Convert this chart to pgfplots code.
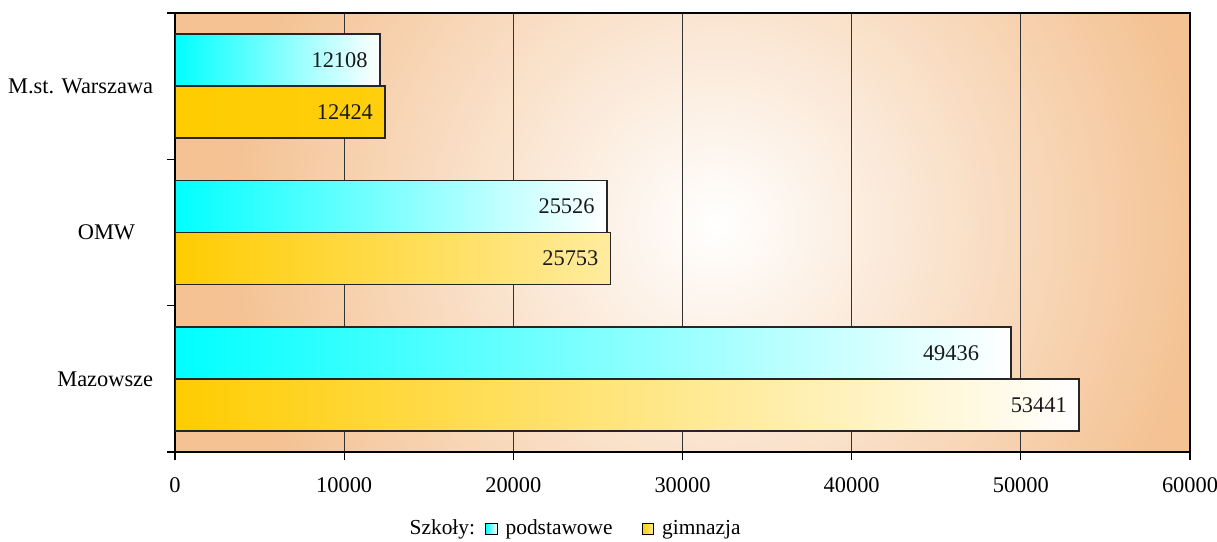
\documentclass[border=0pt]{standalone}
\usepackage{fontspec}
\setmainfont{Liberation Serif}
\usepackage{pgfplots}
\pgfplotsset{compat=1.18}
\usetikzlibrary{calc}

\definecolor{bgtan}{RGB}{244,194,147}
\definecolor{gold}{RGB}{255,204,0}
\definecolor{aqua}{RGB}{0,255,255}

\pgfplotsset{
  sq legend/.style={legend image code/.code={
    \draw[##1,draw=black,line width=0.5bp] (0bp,-2.9bp) rectangle (5.8bp,2.9bp);}},
  barpod/.style={/pgf/bar shift=13bp, draw=black!85, line width=0.8bp, left color=aqua},
  bargim/.style={/pgf/bar shift=-13bp, draw=black!85, line width=0.8bp, left color=gold},
}

\begin{document}
\fontsize{11.2bp}{13.4bp}\selectfont
\begin{tikzpicture}
\begin{axis}[
  set layers,
  scale only axis,
  width=507.5bp, height=219.5bp,
  xbar, bar width=26bp,
  xmin=0, xmax=60000, ymin=-0.5, ymax=2.5,
  xtick={0,10000,20000,30000,40000,50000,60000},
  scaled x ticks=false,
  /pgf/number format/1000 sep={},
  /pgf/number format/assume math mode=true,
  ytick={-0.5,0.5,1.5,2.5},
  yticklabels={,,,},
  extra y ticks={0,1,2},
  extra y tick labels={Mazowsze,OMW\hspace{9bp}\null,M.st. Warszawa},
  extra y tick style={major tick length=0pt},
  tick align=outside, tick pos=left,
  major tick length=4bp,
  xmajorgrids,
  grid style={black!80, line width=0.6bp},
  axis line style={black, line width=0.6bp},
  tick style={black, line width=0.6bp},
  xticklabel style={yshift=-5bp},
  yticklabel style={xshift=-7bp},
  nodes near coords,
  every node near coord/.append style={anchor=east, xshift=-2bp, text=black!90},
  legend style={draw=none, fill=none, at={(0.221,-0.175)}, anchor=west,
    font=\fontsize{10.7bp}{12.8bp}\selectfont,
    legend columns=-1,
    /tikz/every even column/.append style={column sep=3bp}},
]
\begin{pgfonlayer}{axis background}
  \fill[bgtan] (rel axis cs:0,0) rectangle (rel axis cs:1,1);
  \begin{scope}
    \clip (rel axis cs:0,0) rectangle (rel axis cs:1,1);
    \shade[inner color=white, outer color=bgtan] (axis cs:32000,1.05) circle[radius=245bp];
  \end{scope}
\end{pgfonlayer}
\coordinate (sw) at (rel axis cs:0,0);
\coordinate (ne) at (rel axis cs:1,1);

\addlegendimage{empty legend}
\addlegendentry{Szkoły:}

% podstawowe
\addplot[barpod, right color=white, sq legend] coordinates {(12108,2)};
\addlegendentry{\hspace*{2bp}podstawowe\hspace{9.5bp}\null}
\addplot[barpod, right color=white, forget plot] coordinates {(25526,1)};
\addplot[barpod, right color=white, forget plot,
  every node near coord/.append style={xshift=-10bp}] coordinates {(49436,0)};

% gimnazja
\addplot[bargim, right color=gold!95!white, forget plot] coordinates {(12424,2)};
\addplot[bargim, right color=gold!38!white, sq legend] coordinates {(25753,1)};
\addlegendentry{\hspace*{2bp}gimnazja}
\addplot[bargim, right color=white, forget plot] coordinates {(53441,0)};
\end{axis}
\pgfresetboundingbox
\path ($(sw)+(-87.5bp,-45bp)$) rectangle ($(ne)+(13.5bp,6.5bp)$);
\end{tikzpicture}
\end{document}
